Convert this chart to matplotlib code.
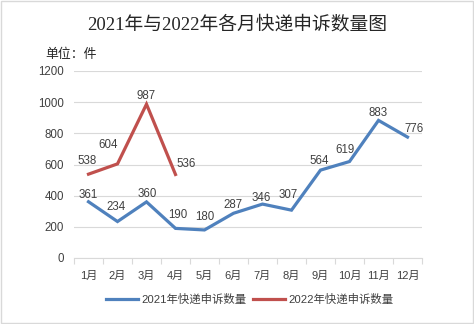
import numpy as np
import matplotlib.pyplot as plt
from matplotlib.patches import Rectangle

plt.rcParams['font.family'] = ['Liberation Sans', 'Noto Sans CJK SC']

months = ['1月', '2月', '3月', '4月', '5月', '6月', '7月', '8月', '9月', '10月', '11月', '12月']
v2021 = [361, 234, 360, 190, 180, 287, 346, 307, 564, 619, 883, 776]
v2022 = [538, 604, 987, 536]
yticks = [0, 200, 400, 600, 800, 1000, 1200]

# label offsets in pixels (dx, dy)
off2021 = [(0, 7), (-1, 15), (1, 8), (2, 13), (0, 13), (0, 8), (-1, 6), (-3, 15), (-1, 9), (-4, 12), (0, 7), (7, 8)]
off2022 = [(-1, 13), (-9, 19), (0, 8), (11, 10)]

blue = '#4f81bd'
red = '#c0504d'
grid_c = '#d9d9d9'
txt_c = '#404040'

fig = plt.figure(figsize=(4.74, 3.24), dpi=100)
ax = fig.add_axes([74/474, 1-258/324, 348/474, 187/324])

x = np.arange(len(months))
ax.plot(x, v2021, color=blue, lw=2.3, solid_joinstyle='miter', label='2021年快递申诉数量')
ax.plot(x[:len(v2022)], v2022, color=red, lw=2.3, solid_joinstyle='miter', label='2022年快递申诉数量')

for i, v in enumerate(v2021):
    ax.annotate(str(v), (x[i], v), xytext=off2021[i], textcoords='offset pixels',
                ha='center', va='center', fontsize=8.3, color=txt_c)
for i, v in enumerate(v2022):
    ax.annotate(str(v), (x[i], v), xytext=off2022[i], textcoords='offset pixels',
                ha='center', va='center', fontsize=8.3, color=txt_c)

ax.set_xlim(-0.5, len(months) - 0.5)
ax.set_ylim(0, 1200)
ax.set_yticks(yticks)
ax.set_yticklabels([str(t) for t in yticks], fontsize=8.3, color=txt_c)
ax.set_xticks(x)
ax.set_xticklabels(months, fontsize=8, color=txt_c)
ax.set_xticks(np.arange(-0.5, len(months)), minor=True)
ax.tick_params(axis='x', which='major', length=0, pad=9)
ax.tick_params(axis='x', which='minor', length=4, color=grid_c, width=0.8)
ax.tick_params(axis='y', length=0, pad=7)
ax.grid(axis='y', color=grid_c, lw=0.8)
ax.set_axisbelow(True)
for s in ['top', 'right', 'left']:
    ax.spines[s].set_visible(False)
ax.spines['bottom'].set_color(grid_c)
ax.spines['bottom'].set_linewidth(0.8)

fig.text(0.5, 1-25/324, '2021年与2022年各月快递申诉数量图', ha='center', va='center',
         fontsize=13.5, color='#262626', family=['Liberation Serif', 'Noto Sans CJK SC'])
fig.text(45/474, 1-55/324, '单位：件', ha='left', va='center', fontsize=9.3, color='#262626')

fig.legend(loc='center', bbox_to_anchor=(250/474, 1-299/324), ncol=2, frameon=False,
           fontsize=8.2, handlelength=2.8, handletextpad=0.3, columnspacing=0.6,
           labelcolor=txt_c)

fig.patches.append(Rectangle((0.002, 0.003), 0.995, 0.994, transform=fig.transFigure,
                             fill=False, edgecolor='#d9d9d9', lw=1))

fig.savefig('out.png', dpi=100)
